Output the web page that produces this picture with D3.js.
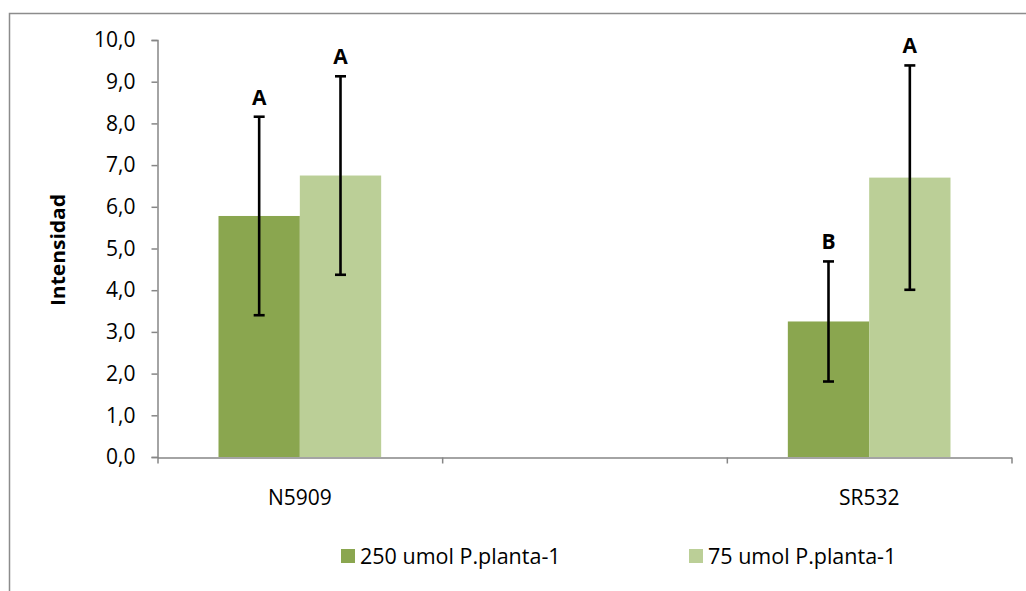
<!DOCTYPE html>
<html>
<head>
<meta charset="utf-8">
<script src="https://cdn.jsdelivr.net/npm/d3@7"></script>
<style>
body{margin:0;background:#fff;}
text{font-family:"Open Sans",Lato,sans-serif;fill:#000;}
</style>
</head>
<body>
<svg id="myGraph" width="1026" height="591"></svg>
<script>
var svgWidth=1026;
var svgHeight=591;

// data
var categories=["N5909","SR532"];
var slots=["N5909","","SR532"]; // excel leaves an empty slot in the middle
var seriesNames=["250 umol P.planta-1","75 umol P.planta-1"];
var valuesS1=[5.78,3.25];
var valuesS2=[6.75,6.70];
var errS1=[2.38,1.44];
var errS2=[2.38,2.69];
var lettersS1=["A","B"];
var lettersS2=["A","A"];
var yTicks=[0,1,2,3,4,5,6,7,8,9,10];
var colors=["#8aa64f","#bbcf97"];

var svg=d3.select("#myGraph");

// outer frame
svg.append("rect")
	.attr("x",9.5).attr("y",13.5)
	.attr("width",1040).attr("height",600)
	.attr("fill","none").attr("stroke","#8c8c8c").attr("stroke-width",1.5);

var x0=d3.scaleBand().domain(slots).range([157.5,1011.5]).padding(0);
var groupW=x0.bandwidth()*2/3.5;
var x1=d3.scaleBand().domain(seriesNames)
	.range([(x0.bandwidth()-groupW)/2,(x0.bandwidth()+groupW)/2]).padding(0);
var y=d3.scaleLinear().domain([0,10]).range([457,40]);

// table for drawing
var rows=[];
categories.forEach(function(c,i){
	rows.push({cat:c,s:seriesNames[0],v:valuesS1[i],e:errS1[i],l:lettersS1[i],col:colors[0]});
	rows.push({cat:c,s:seriesNames[1],v:valuesS2[i],e:errS2[i],l:lettersS2[i],col:colors[1]});
});

function cx(d){return x0(d.cat)+x1(d.s)+x1.bandwidth()/2;}

svg.selectAll("rect.bar")
	.data(rows)
	.enter()
	.append("rect")
	.attr("class","bar")
	.attr("x",function(d){return x0(d.cat)+x1(d.s);})
	.attr("width",x1.bandwidth())
	.attr("y",function(d){return y(d.v);})
	.attr("height",function(d){return y(0)-y(d.v);})
	.attr("fill",function(d){return d.col;});

// y axis
var yAxis=svg.append("g")
	.attr("transform","translate(157.5,0)")
	.call(d3.axisLeft(y).tickValues(yTicks).tickSize(6).tickPadding(16)
		.tickFormat(function(d){return d3.format(".1f")(d).replace(".",",");}));
yAxis.select(".domain").attr("stroke","#868686").attr("stroke-width",1.5);
yAxis.selectAll(".tick line").attr("stroke","#868686").attr("stroke-width",1.5);
yAxis.selectAll("text").style("font-size","21px").style("font-family","'Open Sans'");

// x axis, ticks on slot boundaries
var xb=d3.scaleLinear().domain([0,slots.length]).range(x0.range());
var xAxis=svg.append("g")
	.attr("transform","translate(0,457.5)")
	.call(d3.axisBottom(xb).tickValues(d3.range(slots.length+1)).tickSize(6).tickSizeOuter(0).tickFormat(""));
xAxis.select(".domain").attr("stroke","#868686").attr("stroke-width",1.5);
xAxis.selectAll(".tick line").attr("stroke","#868686").attr("stroke-width",1.5);

svg.selectAll("text.cat")
	.data(categories)
	.enter()
	.append("text")
	.attr("class","cat")
	.attr("x",function(d){return x0(d)+x0.bandwidth()/2;})
	.attr("y",505)
	.attr("text-anchor","middle")
	.style("font-size","21px")
	.text(function(d){return d;});

// error bars
var eb=svg.selectAll("g.err").data(rows).enter().append("g").attr("class","err")
	.attr("stroke","#000").attr("stroke-width",2.6);
eb.append("line")
	.attr("x1",cx).attr("x2",cx)
	.attr("y1",function(d){return y(d.v+d.e);})
	.attr("y2",function(d){return y(d.v-d.e);});
eb.append("line")
	.attr("x1",function(d){return cx(d)-5.5;}).attr("x2",function(d){return cx(d)+5.5;})
	.attr("y1",function(d){return y(d.v+d.e);}).attr("y2",function(d){return y(d.v+d.e);});
eb.append("line")
	.attr("x1",function(d){return cx(d)-5.5;}).attr("x2",function(d){return cx(d)+5.5;})
	.attr("y1",function(d){return y(d.v-d.e);}).attr("y2",function(d){return y(d.v-d.e);});

// letters
svg.selectAll("text.letter")
	.data(rows)
	.enter()
	.append("text")
	.attr("class","letter")
	.attr("x",cx)
	.attr("y",function(d){return y(d.v+d.e)-12;})
	.attr("text-anchor","middle")
	.style("font-size","21px")
	.style("font-weight","bold")
	.text(function(d){return d.l;});

// y title
svg.append("text")
	.attr("transform","translate(65,250) rotate(-90) scale(1.05,1)")
	.attr("text-anchor","middle")
	.style("font-size","20px")
	.style("font-weight","bold")
	.text("Intensidad");

// legend
var legX=[341,689];
var leg=svg.selectAll("g.leg").data(seriesNames).enter().append("g").attr("class","leg")
	.attr("transform",function(d,i){return "translate("+legX[i]+",549)";});
leg.append("rect").attr("width",14).attr("height",14)
	.attr("fill",function(d,i){return colors[i];});
leg.append("text")
	.attr("x",19).attr("y",15)
	.style("font-size","21.5px")
	.text(function(d){return d;});
</script>
</body>
</html>
